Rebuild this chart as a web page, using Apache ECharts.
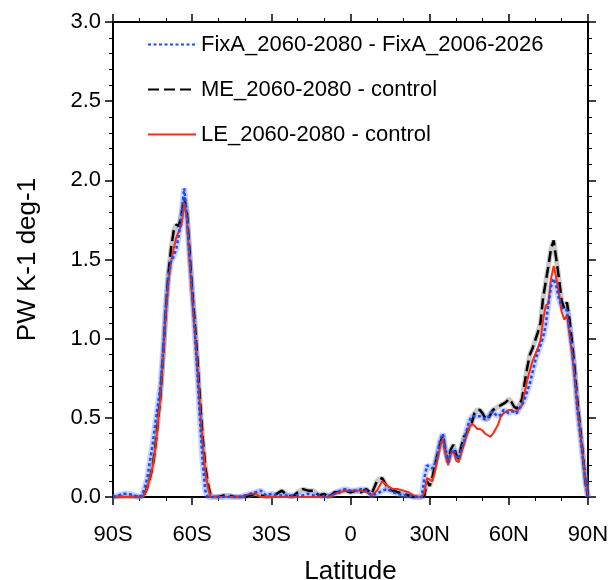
<!DOCTYPE html>
<html>
<head>
<meta charset="utf-8">
<script src="https://cdn.jsdelivr.net/npm/echarts@6/dist/echarts.min.js"></script>
<style>html,body{margin:0;padding:0;background:#fff}#c{width:609px;height:580px}</style>
</head>
<body>
<div id="c"></div>
<script>
// Latitudes (deg; negative = south)
var lats = [
  -90,-88,-86,-84,-82,
  -80,-79,-78,-77,-76,-75,-74,-73,-72,-71,-70,-69,-68,-67,-66,-65,-64,-63,-62,-61,-60,-59,-58,-57,-56,-55,-54,-53,-52,
  -50,-48,-46,-44,-42,-40,-38,-36,-34,-32,-30,-28,-26,-24,-22,-20,-18,-16,-14,-12,-10,-8,-6,-4,-2,0,2,4,6,8,10,12,14,16,18,20,22,24,
  26,27,28,29,30,31,32,33,34,35,36,37,38,39,40,41,42,43,44,45,46,47,48,49,50,51,52,53,54,55,56,57,58,59,60,
  61,62,63,64,65,66,67,68,69,70,71,72,73,74,75,76,77,78,79,80,81,82,83,84,85,86,87,88,89,90
];
// FixA_2060-2080 - FixA_2006-2026
var fixA = [
  0,0.01,0.02,0.02,0.01,
  0,0.01,0.06,0.12,0.23,0.33,0.46,0.58,0.70,0.93,1.20,1.40,1.49,1.52,1.57,1.66,1.79,1.95,1.77,1.52,1.30,1.05,0.78,0.48,0.21,0.04,0,0,0,
  0,0,0,0,0,0.01,0.02,0.03,0.04,0.01,0.02,0.01,0.01,0.01,0.01,0.01,0.01,0.02,0.01,0.01,0,0.01,0.02,0.04,0.05,0.04,0.04,0.05,0.04,0.01,0.02,0.04,0.05,0.03,0.02,0.01,0.01,0,
  0,0,0.12,0.20,0.19,0.18,0.21,0.28,0.36,0.40,0.30,0.22,0.28,0.30,0.26,0.24,0.30,0.35,0.42,0.48,0.51,0.51,0.51,0.51,0.50,0.49,0.50,0.53,0.54,0.52,0.51,0.52,0.55,0.54,0.53,
  0.54,0.54,0.53,0.56,0.58,0.62,0.67,0.72,0.79,0.86,0.91,0.96,1.01,1.09,1.22,1.33,1.38,1.33,1.25,1.20,1.18,1.18,1.06,0.93,0.76,0.55,0.40,0.25,0.10,0
];
// ME_2060-2080 - control
var me = [
  0,0,0,0,0,
  0,0,0.02,0.06,0.12,0.19,0.31,0.47,0.64,0.89,1.17,1.41,1.57,1.68,1.72,1.71,1.79,1.89,1.80,1.55,1.30,1.10,0.86,0.60,0.37,0.19,0.08,0.01,0,
  0,0.01,0.01,0,0,0,0.01,0.02,0.01,0,0,0.02,0.04,0.01,0,0.03,0.05,0.04,0.04,0.01,0.02,0,0.03,0.03,0.04,0.03,0.04,0.03,0.05,0.02,0.10,0.12,0.06,0.04,0.03,0.02,0.01,0,
  0,0,0.01,0.10,0.07,0.12,0.20,0.27,0.34,0.39,0.28,0.22,0.30,0.33,0.27,0.24,0.32,0.38,0.40,0.44,0.47,0.53,0.55,0.55,0.53,0.50,0.49,0.52,0.55,0.56,0.57,0.58,0.59,0.60,0.62,
  0.60,0.57,0.56,0.58,0.62,0.72,0.82,0.90,0.94,0.99,1.04,1.10,1.26,1.36,1.46,1.57,1.62,1.50,1.38,1.24,1.19,1.23,1.12,0.97,0.80,0.60,0.44,0.28,0.10,0
];
// LE_2060-2080 - control
var le = [
  0,0,0,0,0,
  0,0,0.02,0.06,0.12,0.19,0.30,0.46,0.64,0.88,1.15,1.36,1.48,1.57,1.64,1.68,1.72,1.86,1.76,1.50,1.26,1.04,0.82,0.56,0.33,0.16,0.06,0,0,
  0,0,0,0,0,0.01,0.02,0.02,0,0,0,0,0,0,0,0,0,0,0,0,0,0,0.02,0.03,0.04,0.04,0.04,0.04,0.03,0.01,0.04,0.10,0.07,0.05,0.05,0.04,0.03,0.01,
  0,0,0.03,0.12,0.11,0.10,0.16,0.24,0.32,0.37,0.27,0.20,0.27,0.29,0.23,0.22,0.28,0.33,0.39,0.44,0.46,0.45,0.43,0.43,0.42,0.40,0.39,0.38,0.40,0.43,0.46,0.51,0.53,0.54,0.55,
  0.55,0.54,0.54,0.56,0.58,0.66,0.74,0.80,0.86,0.90,0.94,0.99,1.12,1.21,1.22,1.38,1.46,1.38,1.28,1.17,1.12,1.15,1.02,0.90,0.75,0.57,0.42,0.27,0.10,0
];
var xTickLabels = ['90S','60S','30S','0','30N','60N','90N'];
var yTickLabels = ['0.0','0.5','1.0','1.5','2.0','2.5','3.0'];
var seriesNames = ['FixA_2060-2080 - FixA_2006-2026','ME_2060-2080 - control','LE_2060-2080 - control'];

function pairs(vals){ return lats.map(function(l,i){ return [l, vals[i]]; }); }

var FONT = '"Liberation Sans", Arial, Helvetica, sans-serif';
var chart = echarts.init(document.getElementById('c'), null, {renderer:'canvas'});
var axisLine = {show:true, onZero:false, lineStyle:{color:'#000', width:2}};
var tick = {show:true, inside:false, length:8, lineStyle:{color:'#000', width:1.5}};
var xMinor = {show:true, splitNumber:3, length:4, lineStyle:{color:'#000', width:1}};
var yMinor = {show:true, splitNumber:5, length:4, lineStyle:{color:'#000', width:1}};

chart.setOption({
  animation:false,
  backgroundColor:'#fff',
  grid:{left:113, right:21, top:22, bottom:83, containLabel:false, outerBoundsMode:'none'},
  legend:{
    show:true, orient:'vertical', left:142, top:27, itemWidth:48, itemHeight:14, itemGap:20,
    data:seriesNames,
    itemStyle:{opacity:0},
    textStyle:{fontFamily:FONT, fontSize:22, color:'#000', lineHeight:25},
    selectedMode:false
  },
  xAxis:[{
    type:'value', min:-90, max:90, interval:30, position:'bottom',
    axisLine:axisLine, axisTick:tick, minorTick:xMinor, splitLine:{show:false},
    axisLabel:{show:true, margin:27, fontFamily:FONT, fontSize:22, color:'#000',
      formatter:function(v){ return xTickLabels[Math.round((v+90)/30)]; }},
    name:'Latitude', nameLocation:'middle', nameGap:62,
    nameTextStyle:{fontFamily:FONT, fontSize:26, color:'#000'}
  },{
    type:'value', min:-90, max:90, interval:30, position:'top',
    axisLine:axisLine, axisTick:tick, minorTick:xMinor, splitLine:{show:false},
    axisLabel:{show:false}
  }],
  yAxis:[{
    type:'value', min:0, max:3, interval:0.5, position:'left',
    axisLine:axisLine, axisTick:tick, minorTick:yMinor, splitLine:{show:false},
    axisLabel:{show:true, margin:12, fontFamily:FONT, fontSize:22, color:'#000',
      formatter:function(v){ return yTickLabels[Math.round(v/0.5)]; }},
    name:'PW K-1 deg-1', nameLocation:'middle', nameGap:72, nameRotate:90,
    nameTextStyle:{fontFamily:FONT, fontSize:26, color:'#000'}
  },{
    type:'value', min:0, max:3, interval:0.5, position:'right',
    axisLine:axisLine, axisTick:tick, minorTick:yMinor, splitLine:{show:false},
    axisLabel:{show:false}
  }],
  series:[
    {name:'bandFixA', type:'line', data:pairs(fixA), showSymbol:false, symbol:'none', silent:true,
     lineStyle:{color:'rgba(110,140,255,0.38)', width:6}, z:1},
    {name:'bandME', type:'line', data:pairs(me), showSymbol:false, symbol:'none', silent:true,
     lineStyle:{color:'rgba(120,120,120,0.4)', width:5}, z:1},
    {name:seriesNames[1], type:'line', data:pairs(me), showSymbol:false, symbol:'none',
     lineStyle:{color:'#000', width:2.5, type:[11,5]}, itemStyle:{color:'#000'}, z:3},
    {name:seriesNames[2], type:'line', data:pairs(le), showSymbol:false, symbol:'none',
     lineStyle:{color:'#ff2a10', width:2}, itemStyle:{color:'#ff2a10'}, z:4},
    {name:seriesNames[0], type:'line', data:pairs(fixA), showSymbol:false, symbol:'none',
     lineStyle:{color:'#1a4cff', width:2.5, type:[3,2.5]}, itemStyle:{color:'#1a4cff'}, z:5}
  ]
});
</script>
</body>
</html>
